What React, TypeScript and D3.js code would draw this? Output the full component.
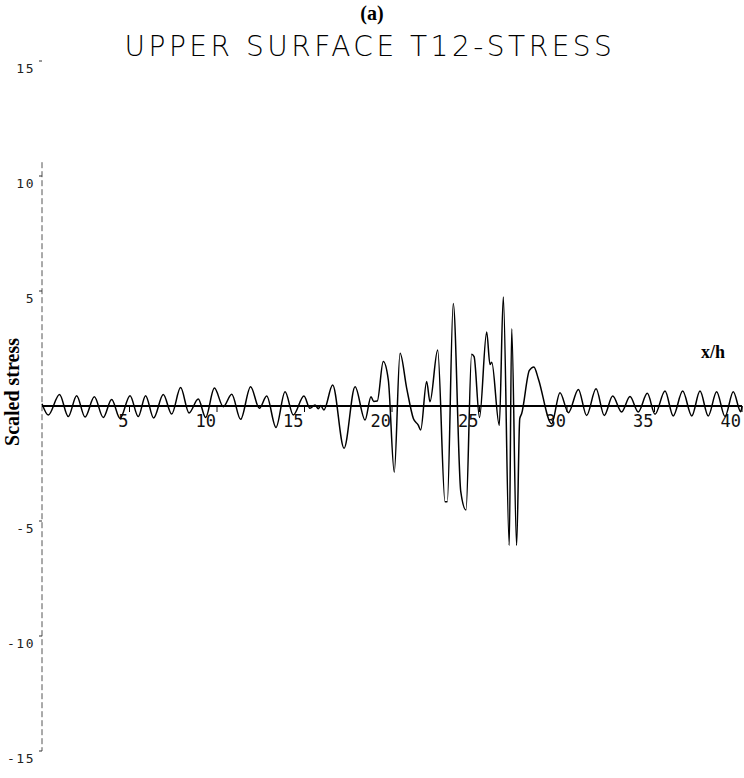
import React from 'react';
import * as d3 from 'd3';

// extrema / shape points (x/h, scaled stress)
const xh = [
  0.0, 0.36, 1.0, 1.5, 1.98, 2.46, 2.99, 3.5, 3.98, 4.46,
  5.03, 5.5, 5.92, 6.38, 6.93, 7.41, 7.92, 8.4, 8.93, 9.35,
  9.85, 10.36, 10.84, 11.35, 11.92, 12.42, 12.84, 13.37, 13.89, 14.36,
  14.97, 15.31, 15.6, 15.79, 15.92, 16.11, 16.61, 17.26, 17.89, 18.46,
  18.8, 18.95, 19.16, 19.5, 19.79, 20.13, 20.46, 20.84, 21.22, 21.5,
  21.64, 21.98, 22.17, 22.61, 23.03, 23.16, 23.5, 23.93, 24.23, 24.55,
  24.69, 25.0, 25.41, 25.6, 25.7, 26.13, 26.36, 26.7, 26.84, 27.12,
  27.3, 27.41, 27.85, 28.11, 28.36, 29.12, 29.6, 30.08, 30.65, 31.12,
  31.66, 32.13, 32.61, 33.12, 33.6, 34.07, 34.59, 35.03, 35.6, 36.07,
  36.61, 37.13, 37.6, 38.07, 38.55, 39.03, 39.5, 39.93, 40.0,
];
const stress = [
  0.1, -0.39, 0.5, -0.46, 0.45, -0.48, 0.4, -0.5, 0.28, -0.54,
  0.45, -0.46, 0.45, -0.52, 0.5, -0.35, 0.8, -0.3, 0.3, -0.5,
  0.78, -0.03, 0.51, -0.58, 0.84, -0.1, 0.43, -0.93, 0.62, -0.39,
  0.43, -0.1, 0.04, -0.12, 0.02, -0.17, 0.91, -1.84, 0.84, -0.61,
  0.4, 0.2, 0.22, 1.93, 1.13, -2.88, 2.29, 0.77, -0.54, -0.83,
  -1.04, 1.06, 0.19, 2.43, -4.16, -4.16, 4.46, -3.72, -4.52, 2.25,
  2.15, -0.5, 3.22, 1.8, 1.9, -0.84, 4.74, -6.06, 3.36, -6.06,
  -0.55, -0.33, 1.55, 1.7, 1.19, -0.77, 0.58, -0.29, 0.72, -0.41,
  0.75, -0.41, 0.43, -0.26, 0.41, -0.26, 0.55, -0.36, 0.65, -0.43,
  0.65, -0.43, 0.65, -0.43, 0.62, -0.46, 0.62, -0.25, 0.0,
];
const xTicks = [5, 10, 15, 20, 25, 30, 35, 40];
const yTicks = [15, 10, 5, -5, -10, -15];

const W = 744;
const H = 778;

export default function App() {
  const x = d3.scaleLinear().domain([0, 40]).range([42, 742]);
  const y = d3.scaleLinear().domain([-15, 15]).range([751, 61]);

  const pts: [number, number][] = xh.map((v, i) => [v, stress[i]]);
  const line = d3
    .line<[number, number]>()
    .x((d) => x(d[0]))
    .y((d) => y(d[1]))
    .curve(d3.curveMonotoneX);

  const plotter = '"DejaVu Sans Mono", monospace';

  return (
    <div style={{ position: 'absolute', left: 0, top: 0 }}>
      <svg width={W} height={H} style={{ display: 'block', background: '#fff' }}>
        <text x={372} y={20} textAnchor="middle" fontFamily='"Liberation Serif", serif' fontWeight="bold" fontSize={20}>
          (a)
        </text>
        <text
          x={370}
          y={56}
          textAnchor="middle"
          fontFamily='"DejaVu Sans", sans-serif'
          fontWeight={200}
          fontSize={28}
          letterSpacing={3.5}
        >
          UPPER SURFACE T12-STRESS
        </text>

        {/* y axis, dashed */}
        <line
          x1={x(0)}
          x2={x(0)}
          y1={y(10.6)}
          y2={y(-15)}
          stroke="#555"
          strokeWidth={1}
          strokeDasharray="6 3"
        />
        {yTicks.map((t) => (
          <g key={t}>
            <line x1={x(0) - 3} x2={x(0)} y1={y(t)} y2={y(t)} stroke="#333" strokeWidth={1} />
            <text
              x={35}
              y={y(t) + 12}
              textAnchor="end"
              fontFamily={plotter}
              fontSize={13}
              letterSpacing={1.5}
              fill="#222"
            >
              {t < 0 ? '-' + Math.abs(t) : String(t)}
            </text>
          </g>
        ))}

        {/* x axis */}
        <line x1={x(0)} x2={x(40)} y1={y(0)} y2={y(0)} stroke="#000" strokeWidth={1.8} />
        {xTicks.map((t) => (
          <g key={t}>
            <line x1={x(t)} x2={x(t)} y1={y(0)} y2={y(0) + 6} stroke="#000" strokeWidth={1} />
            <text
              x={x(t) - 1}
              y={y(0) + 21}
              textAnchor="end"
              fontFamily={plotter}
              fontSize={17}
              fill="#111"
            >
              {t}
            </text>
          </g>
        ))}

        <path d={line(pts) ?? ''} fill="none" stroke="#000" strokeWidth={1.5} />

        <text
          transform={`translate(19,392) rotate(-90)`}
          textAnchor="middle"
          fontFamily='"Liberation Serif", serif'
          fontWeight="bold"
          fontSize={20}
        >
          Scaled stress
        </text>
        <text x={713} y={358} textAnchor="middle" fontFamily='"Liberation Serif", serif' fontWeight="bold" fontSize={18}>
          x/h
        </text>
      </svg>
    </div>
  );
}
